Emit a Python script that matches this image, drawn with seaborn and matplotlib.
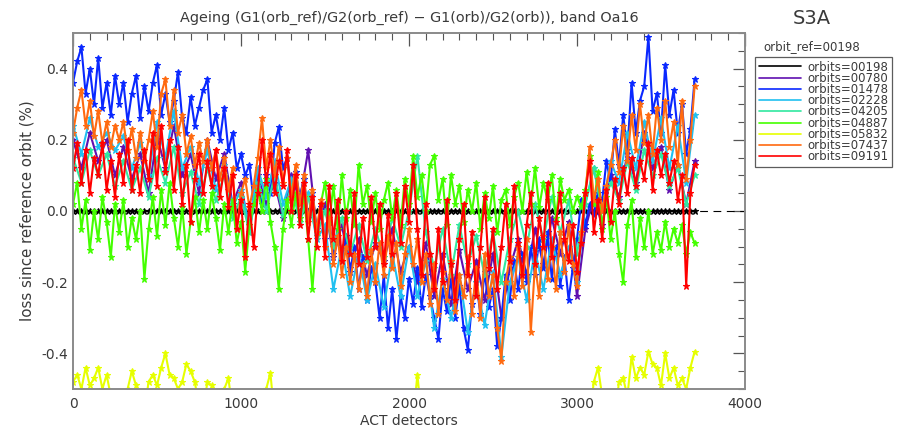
import numpy as np
import pandas as pd
import matplotlib
matplotlib.use("Agg")
import matplotlib.pyplot as plt
from matplotlib.lines import Line2D
from matplotlib.ticker import MultipleLocator, FormatStrFormatter
import seaborn as sns

# Orbits shown, in drawing order, and their colours
orbits = ["00198", "00780", "01478", "02228", "04205", "04887", "05832", "07437", "09191"]
colors = ["#000000", "#6010b0", "#0a28ff", "#20c0f0", "#30e8a0", "#44ff00", "#e6ff00", "#ff6a10", "#ff0000"]

# Detector sampling steps of the series
step_fine = 25
step_coarse = 50

# 01478 (every 25 detectors)
v01478 = [0.36, 0.42, 0.46, 0.33, 0.40, 0.30, 0.43, 0.29, 0.36, 0.27, 0.38, 0.30, 0.36, 0.25, 0.33, 0.38,
          0.26, 0.35, 0.28, 0.36, 0.41, 0.27, 0.33, 0.25, 0.31, 0.39, 0.26, 0.22, 0.32, 0.24, 0.29, 0.34,
          0.37, 0.22, 0.27, 0.20, 0.29, 0.17, 0.22, 0.12, 0.16, 0.10, 0.13, 0.03, 0.08, 0.02, 0.10, 0.05,
          0.19, 0.235, 0.12, 0.15, 0.06, 0.11, 0.04, 0.09, -0.02, 0.05, -0.06, 0.01, -0.08, -0.03, -0.12, -0.05,
          -0.14, -0.07, -0.17, -0.10, -0.22, -0.13, -0.25, -0.16, -0.20, -0.30, -0.18, -0.33, -0.22, -0.36, -0.24, -0.30,
          -0.19, -0.26, -0.16, -0.27, -0.18, -0.24, -0.30, -0.36, -0.22, -0.28, -0.19, -0.30, -0.21, -0.33, -0.39, -0.26,
          -0.20, -0.29, -0.17, -0.27, -0.22, -0.38, -0.30, -0.18, -0.25, -0.14, -0.22, -0.12, -0.20, -0.10, -0.18, -0.08,
          -0.16, -0.06, -0.19, -0.10, -0.21, -0.13, -0.25, -0.16, -0.08, 0.03, -0.04, 0.02, -0.01, 0.05, 0.03, 0.14,
          0.08, 0.23, 0.13, 0.27, 0.17, 0.36, 0.22, 0.31, 0.35, 0.49, 0.28, 0.33, 0.22, 0.41, 0.27, 0.34,
          0.22, 0.30, 0.16, 0.23, 0.37]

# 07437 (every 25 detectors)
v07437 = [0.22, 0.29, 0.34, 0.24, 0.31, 0.21, 0.28, 0.19, 0.25, 0.18, 0.24, 0.20, 0.25, 0.17, 0.23, 0.15,
          0.22, 0.14, 0.20, 0.28, 0.18, 0.33, 0.37, 0.24, 0.34, 0.22, 0.27, 0.16, 0.21, 0.13, 0.19, 0.14,
          0.20, 0.12, 0.17, 0.09, 0.15, 0.06, 0.12, -0.05, 0.05, 0.09, 0.01, 0.07, 0.15, 0.26, 0.12, 0.20,
          0.10, 0.18, 0.08, 0.15, 0.04, 0.13, 0.02, 0.10, -0.03, 0.06, -0.06, 0.03, -0.10, -0.02, -0.15, -0.07,
          -0.18, -0.10, -0.20, -0.12, -0.22, -0.15, -0.24, -0.11, -0.20, -0.09, -0.18, -0.07, -0.16, -0.09, -0.21, -0.12,
          -0.05, -0.15, -0.08, -0.20, -0.12, -0.26, -0.15, -0.29, -0.17, -0.25, -0.14, -0.28, -0.18, -0.24, -0.13, -0.29,
          -0.16, -0.30, -0.12, -0.24, -0.18, -0.33, -0.42, -0.20, -0.13, -0.24, -0.10, -0.21, -0.08, -0.34, -0.15, -0.24,
          -0.07, -0.19, -0.10, -0.22, -0.06, -0.17, -0.04, -0.15, -0.21, -0.06, 0.05, 0.18, 0.03, 0.09, 0.00, 0.07,
          0.13, 0.20, 0.11, 0.24, 0.14, 0.27, 0.17, 0.30, 0.19, 0.27, 0.16, 0.29, 0.20, 0.31, 0.18, 0.25,
          0.13, 0.31, 0.09, 0.20, 0.35]

# 09191 (every 25 detectors)
v09191 = [0.12, 0.19, 0.08, 0.17, 0.05, 0.15, 0.10, 0.19, 0.06, 0.14, 0.04, 0.16, 0.08, 0.20, 0.06, 0.13,
          0.05, 0.17, 0.09, 0.22, 0.07, 0.24, 0.11, 0.20, 0.06, 0.18, 0.02, 0.13, -0.03, 0.09, 0.16, 0.05,
          0.14, 0.07, 0.17, 0.04, 0.12, 0.01, 0.10, -0.05, 0.03, -0.13, 0.02, -0.10, 0.05, 0.20, 0.08, 0.16,
          0.05, 0.14, 0.07, 0.17, 0.00, 0.10, -0.04, 0.08, -0.08, 0.04, -0.10, 0.02, -0.13, 0.07, -0.08, 0.03,
          -0.14, 0.00, -0.12, 0.05, -0.15, -0.02, -0.13, 0.04, -0.10, 0.02, -0.15, -0.01, -0.12, 0.05, -0.09, 0.07,
          -0.03, 0.13, -0.05, -0.18, 0.02, -0.12, -0.22, -0.05, -0.20, 0.03, -0.15, -0.25, -0.08, 0.02, -0.18, -0.06,
          -0.24, -0.10, 0.04, -0.16, -0.05, -0.22, -0.10, 0.02, -0.14, 0.07, -0.09, -0.18, -0.04, 0.05, -0.15, -0.02,
          -0.10, 0.08, -0.13, -0.03, 0.05, -0.08, -0.14, -0.04, -0.17, -0.09, 0.05, 0.14, -0.06, 0.03, -0.08, 0.06,
          -0.03, 0.09, 0.02, 0.12, 0.05, 0.15, 0.07, 0.14, 0.09, 0.19, 0.06, 0.17, 0.10, 0.16, 0.08, 0.14,
          0.03, 0.10, -0.21, 0.05, 0.13]

# 04887 (every 25 detectors)
v04887 = [0.02, 0.08, -0.05, 0.03, -0.11, 0.00, -0.08, 0.04, -0.03, -0.13, 0.02, -0.06, 0.03, -0.10, -0.02, -0.08,
          0.00, -0.19, -0.05, 0.04, -0.07, 0.06, -0.04, 0.08, -0.02, -0.10, 0.01, -0.12, -0.03, 0.04, -0.06, 0.03,
          -0.05, 0.05, -0.02, -0.11, 0.02, -0.06, 0.03, -0.09, -0.03, -0.17, -0.04, 0.02, 0.06, 0.00, 0.09, -0.03,
          -0.10, -0.22, -0.05, 0.03, -0.04, 0.05, -0.02, 0.04, -0.08, -0.22, -0.06, 0.02, 0.08, -0.03, 0.07, -0.05,
          0.10, -0.02, 0.06, -0.04, 0.13, 0.02, 0.07, -0.03, 0.05, -0.05, 0.03, 0.08, -0.02, 0.06, -0.04, 0.09,
          0.02, 0.155, 0.04, 0.10, 0.00, 0.13, 0.155, 0.03, 0.09, -0.04, 0.10, 0.02, 0.07, -0.03, 0.06, 0.00,
          0.08, -0.05, 0.05, -0.02, 0.07, -0.06, 0.03, 0.06, -0.04, 0.04, 0.08, 0.00, 0.11, 0.02, 0.12, 0.01,
          0.08, 0.03, 0.10, -0.02, 0.09, 0.03, 0.06, 0.00, 0.04, 0.01, 0.06, 0.155, 0.02, 0.11, -0.05, 0.04,
          -0.08, 0.00, -0.12, -0.20, -0.04, 0.03, -0.13, -0.02, -0.10, 0.00, -0.12, -0.06, -0.11, -0.03, -0.10, -0.05,
          -0.09, -0.04, -0.12, -0.06, -0.09]

# 05832 (every 25 detectors), mostly below the plotted range
v05832 = [-0.48, -0.46, -0.50, -0.44, -0.49, -0.47, -0.44, -0.50, -0.46, -0.52, -0.56, -0.53, -0.56, -0.50, -0.45, -0.49,
          -0.53, -0.56, -0.48, -0.46, -0.49, -0.44, -0.40, -0.46, -0.47, -0.50, -0.48, -0.43, -0.45, -0.48, -0.55, -0.56,
          -0.48, -0.49, -0.58, -0.56, -0.50, -0.47, -0.56, -0.58, -0.58, -0.58, -0.58, -0.58, -0.58, -0.58, -0.50, -0.455,
          -0.58, -0.58, -0.58, -0.58, -0.58, -0.58, -0.58, -0.58, -0.58, -0.58, -0.58, -0.58, -0.58, -0.58, -0.58, -0.58,
          -0.58, -0.58, -0.58, -0.58, -0.58, -0.58, -0.58, -0.58, -0.58, -0.58, -0.58, -0.58, -0.58, -0.58, -0.58, -0.58,
          -0.58, -0.58, -0.46, -0.58, -0.58, -0.58, -0.58, -0.58, -0.58, -0.58, -0.58, -0.58, -0.58, -0.58, -0.58, -0.58,
          -0.58, -0.58, -0.58, -0.58, -0.58, -0.58, -0.58, -0.58, -0.58, -0.58, -0.58, -0.58, -0.58, -0.51, -0.58, -0.58,
          -0.51, -0.58, -0.58, -0.58, -0.58, -0.58, -0.58, -0.58, -0.58, -0.58, -0.58, -0.58, -0.48, -0.44, -0.52, -0.58,
          -0.58, -0.58, -0.48, -0.47, -0.52, -0.41, -0.47, -0.44, -0.46, -0.395, -0.43, -0.44, -0.49, -0.40, -0.47, -0.44,
          -0.49, -0.47, -0.50, -0.44, -0.395]

# 00780 (every 50 detectors)
v00780 = [0.20, 0.12, 0.22, 0.14, 0.20, 0.10, 0.18, 0.09, 0.16, 0.05, 0.21, 0.12, 0.24, 0.10, 0.16, 0.05,
          0.20, 0.09, 0.16, 0.02, 0.08, -0.06, 0.10, 0.02, 0.08, -0.02, 0.10, 0.03, 0.17, -0.05, 0.02, -0.13,
          -0.04, -0.16, -0.08, -0.18, -0.09, -0.14, -0.05, -0.17, -0.10, -0.20, -0.09, -0.24, -0.12, -0.26, -0.11, -0.22,
          -0.14, -0.25, -0.12, -0.30, -0.16, -0.08, -0.18, -0.05, -0.15, -0.02, -0.12, -0.03, -0.24, -0.05, 0.04, -0.04,
          0.10, 0.04, 0.16, 0.08, 0.22, 0.12, 0.18, 0.06, 0.13, 0.02, 0.14]

# 02228 (every 50 detectors)
v02228 = [0.24, 0.16, 0.26, 0.18, 0.22, 0.17, 0.21, 0.12, 0.19, 0.10, 0.25, 0.15, 0.28, 0.12, 0.18, 0.08,
          0.17, 0.06, 0.13, 0.01, 0.06, -0.04, 0.12, 0.04, 0.14, 0.02, 0.09, -0.02, 0.05, -0.08, -0.04, -0.22,
          -0.10, -0.24, -0.12, -0.25, -0.15, -0.27, -0.12, -0.24, -0.10, -0.24, -0.14, -0.33, -0.19, -0.30, -0.18, -0.34,
          -0.20, -0.32, -0.17, -0.41, -0.20, -0.13, -0.25, -0.11, -0.22, -0.08, -0.18, -0.10, -0.20, 0.02, 0.12, 0.00,
          0.14, 0.08, 0.22, 0.12, 0.25, 0.14, 0.26, 0.12, 0.24, 0.08, 0.27]

# 04205 (every 50 detectors)
v04205 = [0.15, 0.08, 0.17, 0.10, 0.16, 0.07, 0.14, 0.06, 0.12, 0.04, 0.15, 0.08, 0.18, 0.05, 0.11, 0.02,
          0.12, 0.03, 0.10, -0.02, 0.04, -0.06, 0.08, 0.00, 0.10, -0.01, 0.07, -0.03, 0.04, -0.07, 0.00, -0.10,
          -0.02, -0.12, -0.04, -0.14, -0.05, -0.13, -0.02, -0.10, 0.00, 0.155, -0.06, -0.16, -0.05, -0.18, -0.04, -0.15,
          -0.07, -0.18, -0.06, -0.20, -0.08, 0.00, -0.10, 0.02, -0.08, 0.04, -0.06, 0.03, -0.12, 0.02, 0.12, 0.00,
          0.08, 0.03, 0.14, 0.06, 0.17, 0.10, 0.16, 0.07, 0.12, 0.02, 0.10]

# 00198 is the reference orbit itself: zero loss everywhere
v00198 = [0.0] * len(v01478)

series = {
    "00198": (v00198, step_fine),
    "00780": (v00780, step_coarse),
    "01478": (v01478, step_fine),
    "02228": (v02228, step_coarse),
    "04205": (v04205, step_coarse),
    "04887": (v04887, step_fine),
    "05832": (v05832, step_fine),
    "07437": (v07437, step_fine),
    "09191": (v09191, step_fine),
}

frames = []
for orb in orbits:
    vals, step = series[orb]
    frames.append(pd.DataFrame({
        "detector": np.arange(len(vals)) * step,
        "loss": vals,
        "orbit": orb,
    }))
df = pd.concat(frames, ignore_index=True)

sns.set_theme(style="white")
plt.rcParams["font.family"] = ["DejaVu Sans"]
text_col = "#3a3a3a"

fig = plt.figure(figsize=(9.05, 4.28), dpi=100)
ax = fig.add_axes([73 / 905, 1 - 389 / 428, (745 - 73) / 905, (389 - 33) / 428])

palette = dict(zip(orbits, colors))
sns.lineplot(data=df, x="detector", y="loss", hue="orbit", hue_order=orbits,
             palette=palette, estimator=None, sort=False, legend=False,
             marker="*", markersize=4.8, markeredgewidth=0.8, linewidth=1.5, ax=ax)
# asterisk markers outlined in their own series colour
for ln in ax.get_lines():
    ln.set_markeredgecolor(ln.get_color())
    ln.set_markerfacecolor(ln.get_color())

# zero line across the full detector range
ax.axhline(0.0, color="black", lw=0.8, ls=(0, (7, 5)), zorder=1)

ax.set_xlim(0, 4000)
ax.set_ylim(-0.5, 0.5)
ax.xaxis.set_major_locator(MultipleLocator(1000))
ax.xaxis.set_minor_locator(MultipleLocator(100))
ax.yaxis.set_major_locator(MultipleLocator(0.2))
ax.yaxis.set_minor_locator(MultipleLocator(0.05))
ax.yaxis.set_major_formatter(FormatStrFormatter("%.1f"))
ax.tick_params(which="both", direction="in", top=True, right=True, color="#555555",
               labelsize=10, labelcolor=text_col)
ax.tick_params(which="major", length=9, width=0.9)
ax.tick_params(which="minor", length=5, width=0.8)
ax.tick_params(axis="x", which="major", pad=6)
for sp in ax.spines.values():
    sp.set_color("#8a8a8a")
    sp.set_linewidth(1.4)

ax.set_xlabel("ACT detectors", fontsize=10, color=text_col, labelpad=2)
ax.set_ylabel("loss since reference orbit (%)", fontsize=10.8, color=text_col, labelpad=5)
ax.set_title("Ageing (G1(orb_ref)/G2(orb_ref) \u2212 G1(orb)/G2(orb)), band Oa16",
             fontsize=10.4, color=text_col, pad=8)

fig.text(812 / 905, 1 - 19 / 428, "S3A", fontsize=14, color=text_col, ha="center", va="center")
fig.text(812 / 905, 1 - 47 / 428, "orbit_ref=00198", fontsize=8.5, color=text_col, ha="center", va="center")

handles = [Line2D([], [], color=c, lw=1.2) for c in colors]
labels = ["orbits=" + o for o in orbits]
leg = fig.legend(handles, labels, loc="upper left", bbox_to_anchor=(755 / 905, 1 - 57 / 428),
                 fontsize=8.5, handlelength=3.6, handletextpad=0.5, labelspacing=-0.15,
                 borderpad=0.3, borderaxespad=0, frameon=True, fancybox=False)
leg.get_frame().set_edgecolor("#333333")
leg.get_frame().set_linewidth(0.9)
for t in leg.get_texts():
    t.set_color(text_col)

fig.savefig("out.png", dpi=100)
